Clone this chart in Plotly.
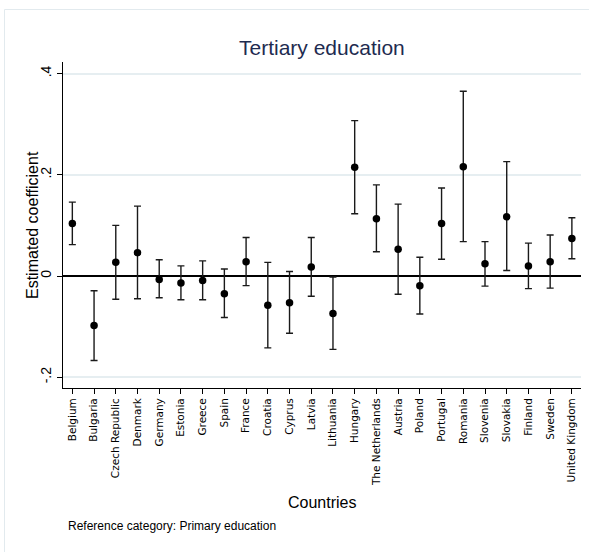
import plotly.graph_objects as go

# Country-level estimates for tertiary education (reference: primary education)
countries = [
    "Belgium", "Bulgaria", "Czech Republic", "Denmark", "Germany", "Estonia",
    "Greece", "Spain", "France", "Croatia", "Cyprus", "Latvia", "Lithuania",
    "Hungary", "The Netherlands", "Austria", "Poland", "Portugal", "Romania",
    "Slovenia", "Slovakia", "Finland", "Sweden", "United Kingdom",
]
coef = [
    0.104, -0.098, 0.027, 0.046, -0.007, -0.014, -0.009, -0.035, 0.028,
    -0.058, -0.053, 0.018, -0.074, 0.215, 0.113, 0.053, -0.019, 0.104,
    0.216, 0.024, 0.117, 0.020, 0.028, 0.074,
]
ci_upper = [
    0.146, -0.029, 0.100, 0.138, 0.032, 0.020, 0.030, 0.014, 0.076,
    0.027, 0.009, 0.076, -0.002, 0.307, 0.180, 0.142, 0.037, 0.174,
    0.365, 0.068, 0.226, 0.065, 0.081, 0.115,
]
ci_lower = [
    0.062, -0.167, -0.046, -0.045, -0.043, -0.047, -0.047, -0.082, -0.019,
    -0.142, -0.113, -0.040, -0.145, 0.123, 0.048, -0.036, -0.075, 0.033,
    0.068, -0.020, 0.011, -0.025, -0.024, 0.034,
]
y_ticks = [-0.2, 0.0, 0.2, 0.4]
y_tick_text = ["-.2", "0", ".2", ".4"]

positions = list(range(1, len(countries) + 1))
err_plus = [u - c for u, c in zip(ci_upper, coef)]
err_minus = [c - l for c, l in zip(coef, ci_lower)]

W, H = 589, 552
L, R, T, B = 63, 8, 62, 164
pw, ph = W - L - R, H - T - B

def px_x(x):
    return (x - L) / pw

def px_y(y):
    return (H - B - y) / ph

fig = go.Figure()
fig.add_trace(go.Scatter(
    x=positions, y=coef, mode="markers",
    marker=dict(color="black", size=7.5),
    error_y=dict(type="data", symmetric=False, array=err_plus,
                 arrayminus=err_minus, color="#1a1a1a",
                 thickness=1.4, width=3.5),
    showlegend=False, hoverinfo="skip",
))

font_main = "Liberation Sans, Arial, Helvetica, sans-serif"

fig.update_layout(
    width=W, height=H,
    margin=dict(l=L, r=R, t=T, b=B, pad=0),
    paper_bgcolor="white", plot_bgcolor="white",
    font=dict(family=font_main, color="black"),
    xaxis=dict(
        range=[0.57, 24.42], tickvals=positions, ticktext=countries,
        tickangle=-90, tickfont=dict(family="DejaVu Sans, sans-serif", size=10.5),
        ticks="outside", ticklen=5, tickcolor="black", tickwidth=1,
        showline=True, linecolor="black", linewidth=1,
        showgrid=False, zeroline=False,
    ),
    yaxis=dict(
        range=[-0.2213, 0.4229], tickvals=y_ticks, ticktext=y_tick_text,
        tickangle=-90, tickfont=dict(size=14),
        ticks="outside", ticklen=5, tickcolor="black", tickwidth=1,
        showline=True, linecolor="black", linewidth=1,
        showgrid=True, gridcolor="#e6eef1", gridwidth=1.5,
        zeroline=True, zerolinecolor="black", zerolinewidth=1.5,
    ),
    shapes=[dict(
        type="rect", xref="paper", yref="paper",
        x0=px_x(4.5), x1=px_x(W + 20), y0=px_y(H + 20), y1=px_y(9.5),
        line=dict(color="#e2eaee", width=1), fillcolor="rgba(0,0,0,0)",
        layer="below",
    )],
    annotations=[
        dict(text="Tertiary education", xref="paper", yref="paper",
             x=0.5, y=px_y(47), xanchor="center", yanchor="middle",
             showarrow=False, font=dict(size=21, color="#1e2b50")),
        dict(text="Estimated coefficient", xref="paper", yref="paper",
             x=px_x(32), y=0.5, xanchor="center", yanchor="middle",
             textangle=-90, showarrow=False, font=dict(size=16)),
        dict(text="Countries", xref="paper", yref="paper",
             x=0.5, y=px_y(502), xanchor="center", yanchor="middle",
             showarrow=False, font=dict(size=16)),
        dict(text="Reference category: Primary education", xref="paper",
             yref="paper", x=px_x(66), y=px_y(526), xanchor="left",
             yanchor="middle", showarrow=False, font=dict(size=12)),
    ],
)

fig.write_html("out.html")
